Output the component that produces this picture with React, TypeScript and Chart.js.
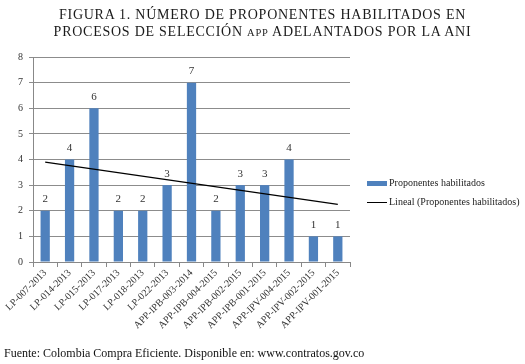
import React, { useEffect, useRef } from "react";
import { Chart, registerables } from "chart.js";

Chart.register(...registerables);

const categories = [
  "LP-007-2013",
  "LP-014-2013",
  "LP-015-2013",
  "LP-017-2013",
  "LP-018-2013",
  "LP-022-2013",
  "APP-IPB-003-2014",
  "APP-IPB-004-2015",
  "APP-IPB-002-2015",
  "APP-IPB-001-2015",
  "APP-IPV-004-2015",
  "APP-IPV-002-2015",
  "APP-IPV-001-2015",
];
const proponentes = [2, 4, 6, 2, 2, 3, 7, 2, 3, 3, 4, 1, 1];
const trendline = [3.9, null, null, null, null, null, null, null, null, null, null, null, 2.25];
const yTicks = [0, 1, 2, 3, 4, 5, 6, 7, 8];
const titleLine1 = "FIGURA 1. NÚMERO DE PROPONENTES HABILITADOS EN";
const titleLine2 = ["PROCESOS DE SELECCIÓN ", "APP", " ADELANTADOS POR LA ANI"];
const legendLabels = ["Proponentes habilitados", "Lineal (Proponentes habilitados)"];
const sourceText = "Fuente: Colombia Compra Eficiente. Disponible en: www.contratos.gov.co";

const SERIF = "'Liberation Serif', 'DejaVu Serif', serif";
const BAR_COLOR = "#4F81BD";

const dataLabelPlugin = {
  id: "dataLabels",
  afterDatasetsDraw(chart: any) {
    const ctx = chart.ctx;
    const meta = chart.getDatasetMeta(0);
    ctx.save();
    ctx.font = `11px ${SERIF}`;
    ctx.fillStyle = "#333";
    ctx.textAlign = "center";
    ctx.textBaseline = "bottom";
    meta.data.forEach((bar: any, i: number) => {
      ctx.fillText(String(proponentes[i]), bar.x, bar.y - 6);
    });
    ctx.restore();
  },
};

export default function App() {
  const canvasRef = useRef<HTMLCanvasElement>(null);

  useEffect(() => {
    if (!canvasRef.current) return;
    const chart = new Chart(canvasRef.current, {
      type: "bar",
      data: {
        labels: categories,
        datasets: [
          {
            type: "bar",
            label: legendLabels[0],
            data: proponentes,
            backgroundColor: BAR_COLOR,
            barPercentage: 0.38,
            categoryPercentage: 1,
            order: 2,
          },
          {
            type: "line",
            label: legendLabels[1],
            data: trendline as any,
            borderColor: "#000",
            borderWidth: 1.2,
            pointRadius: 0,
            spanGaps: true,
            order: 1,
          },
        ],
      },
      options: {
        animation: false,
        responsive: false,
        layout: { padding: { top: 57, left: 0, right: 175, bottom: 0 } },
        plugins: {
          legend: { display: false },
          tooltip: { enabled: false },
        },
        scales: {
          x: {
            offset: true,
            grid: {
              display: true,
              drawOnChartArea: false,
              drawTicks: true,
              tickLength: 5,
              offset: true,
              color: "#888",
            },
            border: { color: "#888", width: 1 },
            ticks: {
              maxRotation: 45,
              minRotation: 45,
              autoSkip: false,
              font: { family: SERIF, size: 10 },
              color: "#333",
              padding: 0,
            },
            afterFit(scale: any) {
              scale.height = 102;
            },
          },
          y: {
            min: 0,
            max: 8,
            afterBuildTicks(scale: any) {
              scale.ticks = yTicks.map((v) => ({ value: v }));
            },
            grid: {
              color: "#8c8c8c",
              tickLength: 4,
              lineWidth: 1,
            },
            border: { color: "#888", width: 1 },
            ticks: {
              font: { family: SERIF, size: 10 },
              color: "#333",
              padding: 6,
            },
            afterFit(scale: any) {
              scale.width = 33;
            },
          },
        },
      },
      plugins: [dataLabelPlugin],
    });
    return () => chart.destroy();
  }, []);

  return (
    <div
      style={{
        position: "absolute",
        left: 0,
        top: 0,
        width: 525,
        height: 364,
        background: "#fff",
        fontFamily: SERIF,
        overflow: "hidden",
      }}
    >
      <canvas ref={canvasRef} width={525} height={364} style={{ position: "absolute", left: 0, top: 0 }} />
      <div
        style={{
          position: "absolute",
          left: 0,
          top: 6,
          width: 525,
          textAlign: "center",
          fontSize: 14,
          lineHeight: "17px",
          color: "#1a1a1a",
          letterSpacing: 0.75,
          whiteSpace: "nowrap",
        }}
      >
        <div>{titleLine1}</div>
        <div>
          {titleLine2[0]}
          <span style={{ fontSize: 10.5 }}>{titleLine2[1]}</span>
          {titleLine2[2]}
        </div>
      </div>
      <div style={{ position: "absolute", left: 367, top: 176, fontSize: 10, color: "#222", lineHeight: "14px" }}>
        <div style={{ display: "flex", alignItems: "center", height: 14 }}>
          <span style={{ display: "inline-block", width: 20, height: 5, background: BAR_COLOR, marginRight: 2 }} />
          <span>{legendLabels[0]}</span>
        </div>
        <div style={{ display: "flex", alignItems: "center", height: 14, marginTop: 5 }}>
          <span style={{ display: "inline-block", width: 20, height: 1, background: "#000", marginRight: 2 }} />
          <span>{legendLabels[1]}</span>
        </div>
      </div>
      <div style={{ position: "absolute", left: 4, top: 346, fontSize: 12, color: "#111", whiteSpace: "nowrap" }}>
        {sourceText}
      </div>
    </div>
  );
}
